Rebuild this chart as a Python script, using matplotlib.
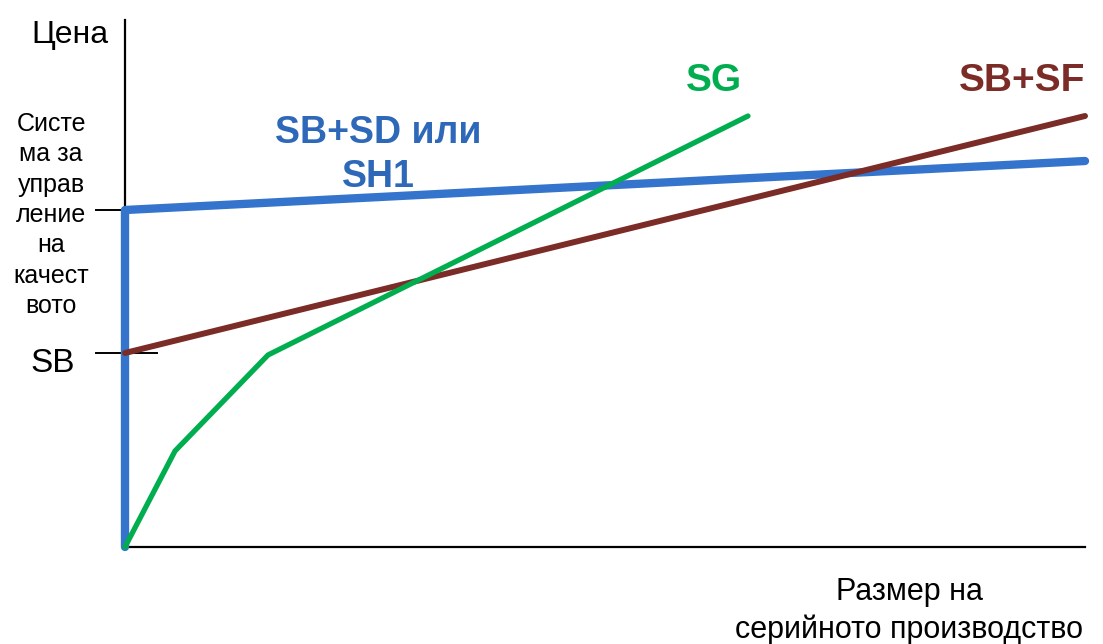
import matplotlib.pyplot as plt

plt.rcParams["font.family"] = ["Liberation Sans", "DejaVu Sans"]

# cost curves vs. batch size (arbitrary units)
blue_x = [0, 0, 960]
blue_y = [0, 337, 386]
brown_x = [0, 960]
brown_y = [194, 431]
green_x = [0, 50, 143, 623]
green_y = [0, 96, 192, 431]

qms_level = 337
sb_level = 194

W, H = 1103, 644
fig = plt.figure(figsize=(W / 100, H / 100), dpi=100)
ax = fig.add_axes([125 / W, (H - 547) / H, 960 / W, 527 / H])
ax.set_xlim(0, 960)
ax.set_ylim(0, 527)

for s in ["top", "right"]:
    ax.spines[s].set_visible(False)
for s in ["left", "bottom"]:
    ax.spines[s].set_linewidth(1.6)
ax.set_xticks([])
ax.set_yticks([])

# tick marks for the two cost levels
ax.plot([-29, 0], [qms_level, qms_level], color="black", lw=1.4, clip_on=False)
ax.plot([-29, 32], [sb_level, sb_level], color="black", lw=1.4, clip_on=False)

ax.plot(blue_x, blue_y, color="#3574CC", lw=6, solid_capstyle="round",
        solid_joinstyle="round", clip_on=False, zorder=3)
ax.plot(brown_x, brown_y, color="#7B2C26", lw=4.3, solid_capstyle="round",
        clip_on=False, zorder=4)
ax.plot(green_x, green_y, color="#00AE4F", lw=3.8, solid_capstyle="round",
        clip_on=False, zorder=5)

ax.text(-17, 512, "Цена", fontsize=23, ha="right", va="center")
ax.text(-74, qms_level - 5, "Систе\nма за\nуправ\nление\nна\nкачест\nвото",
        fontsize=18, ha="center", va="center", multialignment="center",
        linespacing=1.33)
ax.text(-95, sb_level - 10, "SB", fontsize=24, ha="left", va="center")
ax.text(784, -64, "Размер на\nсерийното производство", fontsize=22,
        ha="center", va="center", multialignment="center", linespacing=1.3)

ax.text(253, 392, "SB+SD или\nSH1", fontsize=27, fontweight="bold",
        color="#2E68B8", ha="center", va="center", multialignment="center",
        linespacing=1.3)
ax.text(589, 466, "SG", fontsize=28, fontweight="bold", color="#00AE4F",
        ha="center", va="center")
ax.text(897, 466, "SB+SF", fontsize=28, fontweight="bold", color="#7B2C26",
        ha="center", va="center")

fig.savefig("out.png", dpi=100)
